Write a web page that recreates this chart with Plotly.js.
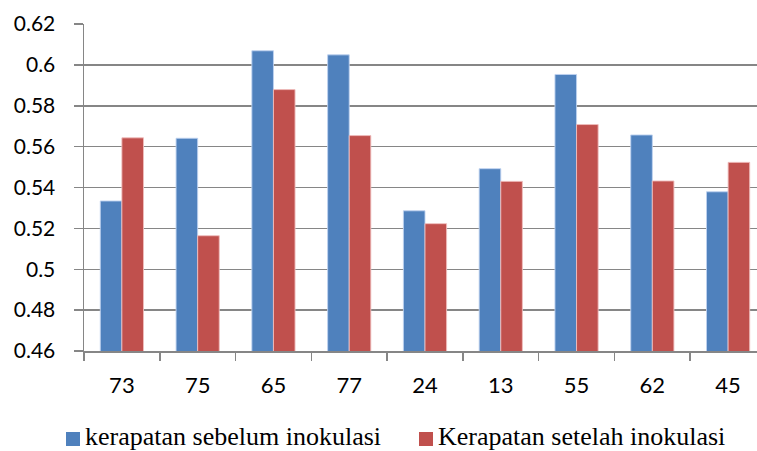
<!DOCTYPE html>
<html>
<head>
<meta charset="utf-8">
<script src="https://cdn.plot.ly/plotly-3.0.1.min.js"></script>
<style>
html,body{margin:0;padding:0;overflow:hidden;background:#fff;}
#chart{width:766px;height:451px;}
</style>
</head>
<body>
<div id="chart"></div>
<script>
const categories = ['73','75','65','77','24','13','55','62','45'];
const sebelum = [0.5334, 0.5641, 0.6069, 0.6049, 0.5286, 0.5492, 0.5953, 0.5657, 0.5379];
const setelah = [0.5643, 0.5164, 0.5879, 0.5654, 0.5223, 0.5430, 0.5708, 0.5432, 0.5523];
const yTickVals = [0.46,0.48,0.5,0.52,0.54,0.56,0.58,0.6,0.62];
const yTickText = ['0.46','0.48','0.5','0.52','0.54','0.56','0.58','0.6','0.62'];
const seriesNames = ['kerapatan sebelum inokulasi','Kerapatan setelah inokulasi'];
const seriesColors = ['#4F81BD','#C0504D'];

const W = 766, H = 451, ML = 84, MT = 24, MB = 100;
const PW = W - ML, PH = H - MT - MB;
const px2x = p => (p - ML) / PW;
const py2y = p => (H - MB - p) / PH;

const traces = [
  {type:'bar', x:categories, y:sebelum, name:seriesNames[0],
   marker:{color:seriesColors[0], line:{color:'rgba(190,210,240,0.9)', width:1}}},
  {type:'bar', x:categories, y:setelah, name:seriesNames[1],
   marker:{color:seriesColors[1], line:{color:'rgba(240,190,190,0.9)', width:1}}}
];

// custom legend (squares + text) placed below the axis
const legendItems = [
  {sq:66, tx:84},
  {sq:419, tx:437}
];
const shapes = legendItems.map((it, i) => ({
  type:'rect', xref:'paper', yref:'paper',
  x0:px2x(it.sq), x1:px2x(it.sq + 14), y0:py2y(446), y1:py2y(432),
  fillcolor:seriesColors[i], line:{width:0}
}));
const annotations = legendItems.map((it, i) => ({
  xref:'paper', yref:'paper', x:px2x(it.tx), y:py2y(436), xanchor:'left', yanchor:'middle',
  text:seriesNames[i], showarrow:false, borderpad:0,
  font:{family:'"Liberation Serif", "Times New Roman", serif', size:26, color:'#000'}
}));

const layout = {
  width:W, height:H,
  margin:{l:ML, r:0, t:MT, b:MB},
  paper_bgcolor:'#fff', plot_bgcolor:'#fff',
  barmode:'group', bargap:0.43, bargroupgap:0,
  font:{family:'Lato, "Open Sans", sans-serif', color:'#000'},
  xaxis:{type:'category', tickson:'boundaries', ticks:'outside', ticklen:8, tickcolor:'#868686', tickwidth:1.5,
         showline:true, linecolor:'#868686', linewidth:1.5, showgrid:false,
         tickfont:{size:22, family:'Lato, sans-serif', color:'#000'}, ticklabelstandoff:14},
  yaxis:{range:[0.46,0.62], tickvals:yTickVals, ticktext:yTickText, ticks:'outside', ticklen:9,
         tickcolor:'#868686', tickwidth:1.5, showline:true, linecolor:'#868686', linewidth:1.5,
         showgrid:true, gridcolor:'#868686', gridwidth:1.5, zeroline:false,
         tickfont:{size:21, family:'Lato, sans-serif', color:'#000'}, ticklabelstandoff:14},
  showlegend:false,
  shapes:shapes,
  annotations:annotations
};

Plotly.newPlot('chart', traces, layout, {displayModeBar:false, staticPlot:true});
</script>
</body>
</html>
